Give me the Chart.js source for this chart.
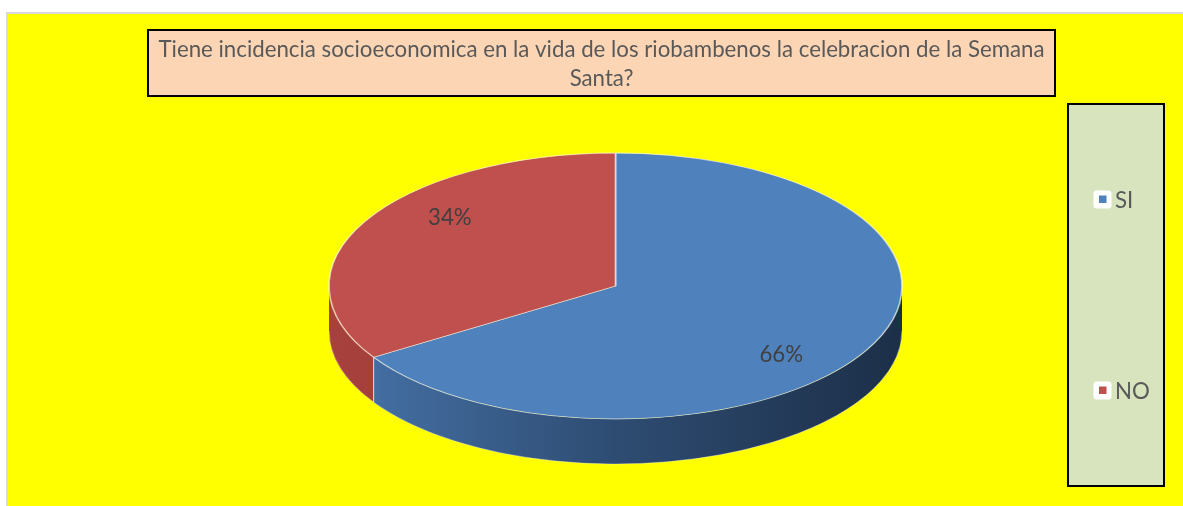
<!DOCTYPE html>
<html>
<head>
<meta charset="utf-8">
<script src="https://cdn.jsdelivr.net/npm/chart.js@4.4.1/dist/chart.umd.min.js"></script>
<style>
  html, body { margin: 0; padding: 0; background: #fff; }
  canvas { display: block; }
</style>
</head>
<body>
<canvas id="pieChart" width="1183" height="506"></canvas>
<script>
const categories = ['SI', 'NO'];
const responses = [66, 34];
const sliceColors = ['#4F81BD', '#C0504D'];
const sideColors = [
  ['#4774AA', '#2E4C72', '#1C2F48'],
  ['#A8413D', '#8E3533', '#6E2826']
];
const titleLines = [
  'Tiene incidencia socioeconomica en la vida de los riobambenos la celebracion de la Semana',
  'Santa?'
];

// tilted pie
const PIE_CX = 615.5, PIE_CY = 286, PIE_RX = 286.5, PIE_RY = 133, PIE_DEPTH = 45;
const LABEL_FX = 0.66, LABEL_FY = 1.07;

const W = 1183, H = 506;
const FONT = 'Lato, "Open Sans", sans-serif';
let fontSize = 20;

function fitFont(ctx) {
  let size = 23;
  ctx.font = `${size}px ${FONT}`;
  while (ctx.measureText(titleLines[0]).width > 890 && size > 10) {
    size -= 0.25;
    ctx.font = `${size}px ${FONT}`;
  }
  return size;
}

const pie3d = {
  id: 'pie3d',
  beforeDraw(chart) {
    const ctx = chart.ctx;
    ctx.save();
    ctx.fillStyle = '#FFFF00';
    ctx.fillRect(8, 14, W - 8, H - 14);
    ctx.strokeStyle = '#D9D9D9';
    ctx.lineWidth = 2;
    ctx.beginPath();
    ctx.moveTo(7, H);
    ctx.lineTo(7, 13);
    ctx.lineTo(W, 13);
    ctx.stroke();

    // title box
    fontSize = fitFont(ctx);
    ctx.fillStyle = '#FCD5B5';
    ctx.fillRect(148, 30, 907, 66);
    ctx.strokeStyle = '#000';
    ctx.lineWidth = 2;
    ctx.strokeRect(148, 30, 907, 66);
    ctx.fillStyle = '#595959';
    ctx.textAlign = 'center';
    ctx.textBaseline = 'alphabetic';
    ctx.font = `${fontSize}px ${FONT}`;
    titleLines.forEach((line, i) => ctx.fillText(line, 601.5, 57 + i * 29));

    // legend box
    const lx = 1068, ly = 104, lw = 96, lh = 382;
    ctx.fillStyle = '#D7E4BD';
    ctx.fillRect(lx, ly, lw, lh);
    ctx.strokeRect(lx, ly, lw, lh);
    ctx.textAlign = 'left';
    ctx.textBaseline = 'middle';
    categories.forEach((name, i) => {
      const y = ly + lh * (i + 0.5) / categories.length;
      ctx.fillStyle = '#fff';
      ctx.beginPath();
      ctx.roundRect(1093.5, y - 9, 18, 18, 3);
      ctx.fill();
      ctx.fillStyle = sliceColors[i];
      ctx.fillRect(1099, y - 4, 7.5, 7.5);
      ctx.fillStyle = '#595959';
      ctx.fillText(name, 1115, y + 1);
    });
    ctx.restore();
  },
  beforeDatasetsDraw(chart) {
    const ctx = chart.ctx;
    const arcs = chart.getDatasetMeta(0).data;
    const cx = arcs[0].x, cy = arcs[0].y;

    // side walls of the front half
    ctx.save();
    arcs.forEach((arc, i) => {
      const g = ctx.createLinearGradient(cx - PIE_RX, 0, cx + PIE_RX, 0);
      g.addColorStop(0, sideColors[i][0]);
      g.addColorStop(0.5, sideColors[i][1]);
      g.addColorStop(1, sideColors[i][2]);
      [-2 * Math.PI, 0, 2 * Math.PI].forEach(k => {
        const s = Math.max(arc.startAngle, k);
        const e = Math.min(arc.endAngle, k + Math.PI);
        if (e <= s) return;
        ctx.beginPath();
        ctx.ellipse(cx, cy, PIE_RX, PIE_RY, 0, s, e);
        ctx.ellipse(cx, cy + PIE_DEPTH, PIE_RX, PIE_RY, 0, e, s, true);
        ctx.closePath();
        ctx.fillStyle = g;
        ctx.fill();
      });
    });
    // seams between slices on the side
    ctx.strokeStyle = 'rgba(255, 225, 225, 0.75)';
    ctx.lineWidth = 1.2;
    arcs.forEach(arc => {
      const a = ((arc.startAngle % (2 * Math.PI)) + 2 * Math.PI) % (2 * Math.PI);
      if (a > 0.02 && a < Math.PI - 0.02) {
        const x = cx + PIE_RX * Math.cos(a), y = cy + PIE_RY * Math.sin(a);
        ctx.beginPath();
        ctx.moveTo(x, y);
        ctx.lineTo(x, y + PIE_DEPTH);
        ctx.stroke();
      }
    });
    ctx.strokeStyle = 'rgba(255, 255, 255, 0.35)';
    ctx.lineWidth = 1;
    ctx.beginPath();
    ctx.ellipse(cx, cy + PIE_DEPTH, PIE_RX, PIE_RY, 0, 0, Math.PI);
    ctx.stroke();
    ctx.restore();

    // flatten the library's round pie into the top face
    const r = arcs[0].outerRadius;
    ctx.save();
    ctx.translate(cx, cy);
    ctx.scale(PIE_RX / r, PIE_RY / r);
    ctx.translate(-cx, -cy);
  },
  afterDatasetsDraw(chart) {
    const ctx = chart.ctx;
    ctx.restore();
    const arcs = chart.getDatasetMeta(0).data;
    const total = responses.reduce((a, b) => a + b, 0);
    ctx.save();
    ctx.fillStyle = '#404040';
    ctx.font = `${fontSize}px ${FONT}`;
    ctx.textAlign = 'center';
    ctx.textBaseline = 'middle';
    arcs.forEach((arc, i) => {
      const mid = (arc.startAngle + arc.endAngle) / 2;
      const x = arc.x + Math.cos(mid) * PIE_RX * LABEL_FX;
      const y = arc.y + Math.sin(mid) * PIE_RY * LABEL_FY;
      ctx.fillText(Math.round(responses[i] / total * 100) + '%', x, y);
    });
    ctx.restore();
  }
};

new Chart(document.getElementById('pieChart'), {
  type: 'pie',
  data: {
    labels: categories,
    datasets: [{
      data: responses,
      backgroundColor: sliceColors,
      borderColor: 'rgba(255, 255, 255, 0.6)',
      borderWidth: 0.8,
      clip: false
    }]
  },
  options: {
    responsive: false,
    devicePixelRatio: 1,
    animation: false,
    events: [],
    layout: {
      padding: {
        left: PIE_CX - PIE_RY,
        right: W - PIE_CX - PIE_RY,
        top: PIE_CY - PIE_RY,
        bottom: H - PIE_CY - PIE_RY
      }
    },
    plugins: {
      legend: { display: false },
      title: { display: false },
      tooltip: { enabled: false }
    }
  },
  plugins: [pie3d]
});
</script>
</body>
</html>
